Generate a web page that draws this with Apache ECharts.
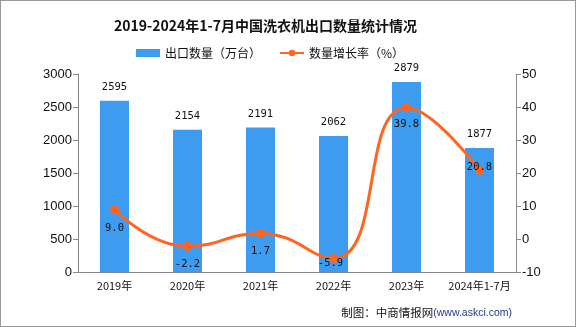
<!DOCTYPE html>
<html><head><meta charset="utf-8">
<script src="https://cdn.jsdelivr.net/npm/echarts@6/dist/echarts.min.js"></script>
<style>html,body{margin:0;padding:0;background:#fff}#c{width:576px;height:327px;box-sizing:border-box;border:1px solid #999}</style>
</head><body><div id="c"></div>
<script>
const categories = ['2019年','2020年','2021年','2022年','2023年','2024年1-7月'];
const exportQty = [2595, 2154, 2191, 2062, 2879, 1877];
const growthRate = [9.0, -2.2, 1.7, -5.9, 39.8, 20.8];
const leftTicks = {min:0, max:3000, interval:500};
const rightTicks = {min:-10, max:50, interval:10};

const ff = '"Noto Sans CJK SC", "DejaVu Sans", sans-serif';
const numFont = '"Liberation Sans", sans-serif';
const monoFont = '"DejaVu Sans Mono", monospace';
const labelOffsets = [[0,19],[0,18],[0,18],[-3,5],[0,17],[0,-3]];
const chart = echarts.init(document.getElementById('c'));
chart.setOption({
  animation:false,
  title:{text:'2019-2024年1-7月中国洗衣机出口数量统计情况', left:108, top:13,
    textStyle:{fontFamily:ff, fontSize:14, fontWeight:'bold', color:'#111'}},
  legend:{top:41, left:130, itemGap:18, itemWidth:24, itemHeight:8,
    textStyle:{fontFamily:ff, fontSize:12, color:'#111'},
    data:[{name:'出口数量（万台）', icon:'rect'},{name:'数量增长率（%）'}]},
  grid:{left:77, right:59, top:73, bottom:54},
  xAxis:{type:'category', data:categories,
    axisLine:{lineStyle:{color:'#888'}}, axisTick:{lineStyle:{color:'#888'}},
    axisLabel:{interval:0, color:'#111', fontFamily:ff, fontSize:11, margin:8}},
  yAxis:[
    {type:'value', min:leftTicks.min, max:leftTicks.max, interval:leftTicks.interval,
      axisLine:{show:true, lineStyle:{color:'#888'}}, axisTick:{show:true, lineStyle:{color:'#888'}},
      splitLine:{show:false}, axisLabel:{color:'#111', fontSize:13, fontFamily:numFont, margin:6, formatter:v=>String(v)}},
    {type:'value', min:rightTicks.min, max:rightTicks.max, interval:rightTicks.interval,
      axisLine:{show:true, lineStyle:{color:'#888'}}, axisTick:{show:true, lineStyle:{color:'#888'}},
      splitLine:{show:false}, axisLabel:{color:'#111', fontSize:13, fontFamily:numFont, margin:6, formatter:v=>String(v)}}
  ],
  series:[
    {name:'出口数量（万台）', type:'bar', data:exportQty, barWidth:29,
      itemStyle:{color:'#3D9CF0'},
      label:{show:true, position:'top', distance:8, color:'#111', fontSize:10.5, fontFamily:monoFont}},
    {name:'数量增长率（%）', type:'line', yAxisIndex:1, smooth:true,
      data:growthRate.map((v,i)=>({value:v, label:{offset:labelOffsets[i]}})),
      symbol:'circle', symbolSize:9,
      lineStyle:{color:'#FF6420', width:3}, itemStyle:{color:'#FF6420'},
      label:{show:true, position:'inside', color:'#111', fontSize:10.5, fontFamily:monoFont,
        formatter:p=>p.value.toFixed(1)}}
  ],
  graphic:[{type:'text', right:63, top:306, style:{
    text:'{a|制图：中商情报网}{b|(www.askci.com)}',
    rich:{a:{fontFamily:ff, fontSize:11.5, fill:'#111'}, b:{fontFamily:numFont, fontSize:10.5, fill:'#1F3C88'}}}}]
});
</script></body></html>
